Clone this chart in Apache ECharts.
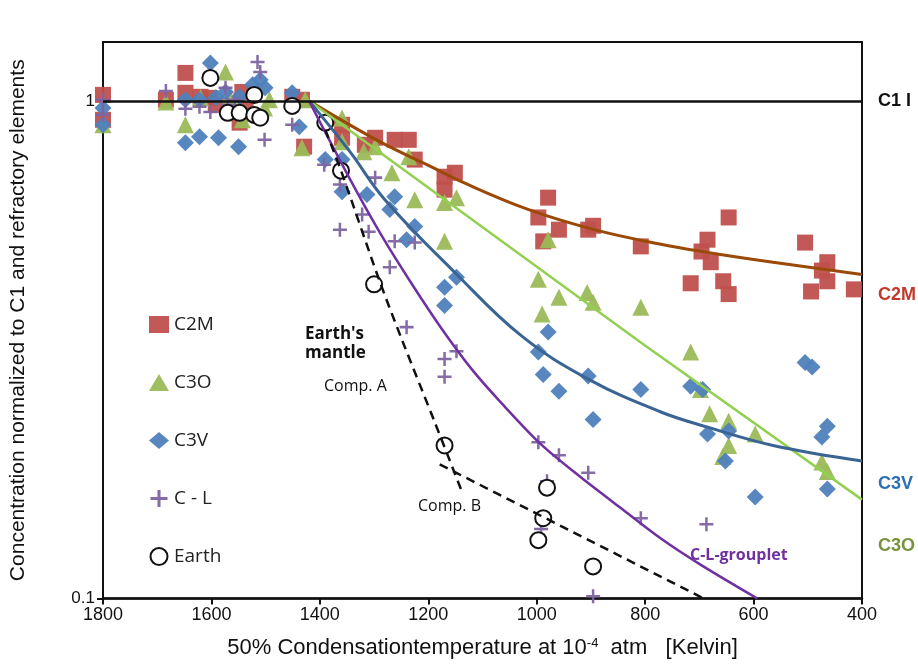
<!DOCTYPE html>
<html>
<head>
<meta charset="utf-8">
<script src="https://cdn.jsdelivr.net/npm/echarts@6/dist/echarts.min.js"></script>
<style>
  html, body { margin: 0; padding: 0; background: #fff; }
  #chart { width: 918px; height: 664px; }
</style>
</head>
<body>
<div id="chart"></div>
<script>
// [temperature K, normalized concentration]
const c2m = [[1800,1.028],[1800,0.916],[1648,1.138],[1684,1.005],[1648,1.038],[1620,1.019],[1603,1.014],[1592,0.982],[1548,0.904],[1543,1.042],[1537,0.959],[1451,1.019],[1433,1.005],[1429,0.809],[1359,0.895],[1359,0.843],[1317,0.816],[1298,0.843],[1262,0.835],[1236,0.835],[1225,0.762],[1170,0.704],[1151,0.717],[1170,0.663],[979,0.639],[997,0.583],[959,0.551],[988,0.522],[905,0.551],[896,0.561],[808,0.510],[646,0.583],[685,0.526],[696,0.498],[679,0.474],[716,0.430],[656,0.434],[646,0.409],[505,0.519],[464,0.474],[474,0.456],[464,0.434],[494,0.414],[415,0.418]]
const c3o = [[1800,0.895],[1684,0.995],[1648,0.895],[1574,1.143],[1620,1.014],[1567,1.019],[1493,1.005],[1543,0.916],[1502,0.968],[1433,0.805],[1427,1.005],[1359,0.924],[1359,0.828],[1319,0.790],[1298,0.809],[1267,0.717],[1236,0.772],[1225,0.633],[1170,0.625],[1148,0.639],[1170,0.522],[979,0.526],[997,0.438],[959,0.403],[990,0.373],[907,0.412],[896,0.394],[808,0.385],[716,0.313],[698,0.263],[681,0.235],[646,0.227],[646,0.203],[657,0.193],[597,0.214],[474,0.188],[464,0.180]]
const c3v = [[1800,0.968],[1800,0.895],[1602,1.192],[1648,0.824],[1622,0.847],[1587,0.843],[1550,0.809],[1648,1.005],[1622,1.005],[1592,1.014],[1574,1.042],[1548,1.019],[1524,1.077],[1510,1.102],[1501,1.062],[1451,1.038],[1438,0.887],[1390,0.762],[1359,0.762],[1359,0.657],[1313,0.648],[1262,0.642],[1271,0.605],[1225,0.559],[1240,0.526],[1148,0.442],[1170,0.422],[1170,0.388],[979,0.343],[997,0.313],[988,0.282],[959,0.261],[905,0.280],[896,0.229],[808,0.263],[716,0.267],[694,0.263],[685,0.214],[646,0.217],[652,0.189],[597,0.160],[505,0.298],[492,0.292],[464,0.222],[474,0.211],[464,0.166]]
const cl = [[1800,1.005],[1800,0.937],[1684,1.047],[1648,0.964],[1622,0.973],[1602,0.950],[1574,1.062],[1570,0.982],[1557,1.005],[1515,1.197],[1510,1.143],[1502,0.835],[1451,0.895],[1392,0.744],[1363,0.679],[1298,0.701],[1322,0.591],[1363,0.551],[1310,0.546],[1262,0.522],[1225,0.519],[1271,0.463],[1240,0.351],[1148,0.314],[1170,0.303],[1170,0.279],[997,0.206],[959,0.194],[905,0.179],[808,0.145],[981,0.172],[992,0.138],[896,0.101],[687,0.141]]
const earth = [[1602,1.112],[1570,0.946],[1548,0.946],[1521,1.028],[1521,0.937],[1510,0.925],[1451,0.977],[1390,0.904],[1361,0.724],[1300,0.428],[1170,0.203],[981,0.167],[988,0.145],[997,0.131],[896,0.116]]

// fitted trends
const c2mFit = [[1420,1.0],[1286,0.824],[1194,0.737],[1139,0.688],[1016,0.605],[894,0.551],[771,0.515],[685,0.496],[564,0.474],[400,0.448]]
const c3oFit = [[1420,1.0],[808,0.327],[400,0.158]]
const c3vFit = [[1420,1.0],[1346,0.794],[1280,0.633],[1151,0.452],[1028,0.337],[905,0.276],[771,0.237],[685,0.221],[564,0.203],[400,0.189]]
const clFit = [[1420,1.0],[1341,0.685],[1286,0.536],[1230,0.428],[1175,0.348],[1120,0.289],[1065,0.247],[992,0.204],[918,0.175],[845,0.152],[771,0.132],[698,0.117],[593,0.1]]
const compA = [[1390,0.875],[1361,0.724],[1291,0.438],[1249,0.332],[1188,0.226],[1139,0.165]]
const compB = [[1179,0.186],[692,0.1]]

const xTicks = [400, 600, 800, 1000, 1200, 1400, 1600, 1800]
const yTicks = [0.1, 1]

const plusPath = 'path://M4.1,0h1.8v4.1h4.1v1.8h-4.1v4.1h-1.8v-4.1h-4.1v-1.8h4.1z'
const axisFont = "'Liberation Sans', Arial, sans-serif"
const noteFont = "'Open Sans', 'Noto Sans', sans-serif"

const chart = echarts.init(document.getElementById('chart'))

const scatter = (name, data, symbol, size, color, extra) => Object.assign({
  name, type: 'scatter', data, symbol, symbolSize: size, z: 2,
  itemStyle: { color, opacity: 0.95 }
}, extra || {})

const fit = (data, color, width, smooth, type) => ({
  type: 'line', data, showSymbol: false, symbol: 'none', smooth, z: 4,
  lineStyle: { color, width, type: type || 'solid' }
})

chart.setOption({
  animation: false,
  grid: { left: 100, right: 56, top: 42, bottom: 64, show: true, borderColor: '#111', borderWidth: 2 },
  legend: {
    orient: 'vertical', left: 144, top: 310, itemGap: 39, itemWidth: 20, itemHeight: 17,
    data: ['C2M', 'C3O', 'C3V', 'C - L', 'Earth'],
    textStyle: { fontFamily: noteFont, fontSize: 19, color: '#222' }
  },
  xAxis: {
    type: 'value', inverse: true, min: 400, max: 1800, interval: 200,
    axisLine: { lineStyle: { color: '#111', width: 2.5 } },
    axisTick: { show: true, length: 6, lineStyle: { color: '#111', width: 2 }, customValues: xTicks },
    axisLabel: { fontFamily: axisFont, fontSize: 18, color: '#111', margin: 8, customValues: xTicks,
      formatter: v => String(v) },
    splitLine: { show: false },
    name: '{a|50% Condensationtemperature at 10}{s|-4}{a|  atm   [Kelvin]}',
    nameLocation: 'middle', nameGap: 38,
    nameTextStyle: {
      rich: {
        a: { fontFamily: axisFont, fontSize: 22, color: '#111' },
        s: { fontFamily: axisFont, fontSize: 13, color: '#111', padding: [0, 0, 10, 0] }
      }
    }
  },
  yAxis: {
    type: 'log', logBase: 10, min: 0.1, max: 1.313,
    axisLine: { lineStyle: { color: '#111', width: 2 } },
    axisTick: { show: true, length: 6, lineStyle: { color: '#111', width: 2 }, customValues: yTicks },
    axisLabel: { fontFamily: axisFont, fontSize: 17, color: '#111', margin: 8, customValues: yTicks,
      formatter: v => (v === 1 ? '1' : '0.1') },
    splitLine: { show: false },
    name: 'Concentration normalized to C1 and refractory elements',
    nameLocation: 'middle', nameGap: 74, nameRotate: 90,
    nameTextStyle: { fontFamily: axisFont, fontSize: 21, color: '#111' }
  },
  series: [
    scatter('C2M', c2m, 'rect', 16, '#c0504d'),
    scatter('C3O', c3o, 'triangle', 17, '#9bbb59'),
    scatter('C3V', c3v, 'diamond', 17, '#4f81bd'),
    scatter('C - L', cl, plusPath, 14, '#8064a2'),
    scatter('Earth', earth, 'circle', 16, '#ffffff', {
      z: 3, itemStyle: { color: '#fff', borderColor: '#111', borderWidth: 2, opacity: 1 }
    }),
    Object.assign(fit(c2mFit, '#9a4a06', 3, 0.4), {
      markLine: {
        silent: true, symbol: 'none', label: { show: false },
        lineStyle: { color: '#111', width: 2.5, type: 'solid' },
        data: [{ yAxis: 1 }]
      }
    }),
    fit(c3oFit, '#92d050', 2.5, false),
    fit(c3vFit, '#3a6494', 3, 0.4),
    fit(clFit, '#7030a0', 2.5, 0.3),
    fit(compA, '#111', 2.5, 0.3, [9, 6]),
    fit(compB, '#111', 2.5, false, [9, 6])
  ],
  graphic: [
    { type: 'text', left: 305, top: 325, style: { text: "Earth's\nmantle", font: "bold 17px 'Open Sans', sans-serif", fill: '#111', lineHeight: 19 } },
    { type: 'text', left: 324, top: 378, style: { text: 'Comp. A', font: "16px 'Open Sans', sans-serif", fill: '#111' } },
    { type: 'text', left: 418, top: 498, style: { text: 'Comp. B', font: "16px 'Open Sans', sans-serif", fill: '#111' } },
    { type: 'text', left: 690, top: 547, style: { text: 'C-L-grouplet', font: "bold 16px 'Open Sans', sans-serif", fill: '#7030a0' } },
    { type: 'text', left: 878, top: 92, style: { text: 'C1 I', font: "bold 18px 'Liberation Sans', Arial, sans-serif", fill: '#111' } },
    { type: 'text', left: 878, top: 286, style: { text: 'C2M', font: "bold 18px 'Liberation Sans', Arial, sans-serif", fill: '#c0392b' } },
    { type: 'text', left: 878, top: 475, style: { text: 'C3V', font: "bold 18px 'Liberation Sans', Arial, sans-serif", fill: '#2e6fb6' } },
    { type: 'text', left: 878, top: 537, style: { text: 'C3O', font: "bold 18px 'Liberation Sans', Arial, sans-serif", fill: '#77933c' } }
  ]
})

window.addEventListener('resize', () => chart.resize())
</script>
</body>
</html>
